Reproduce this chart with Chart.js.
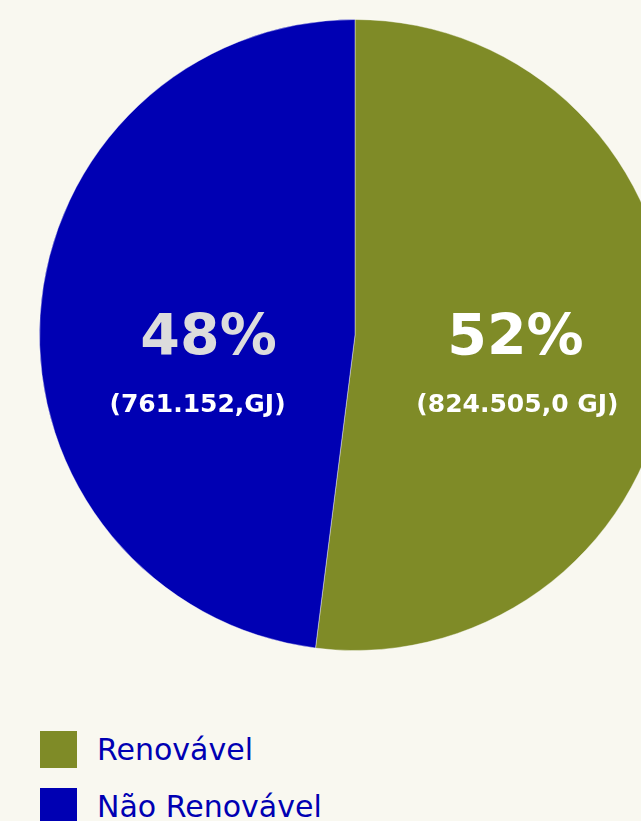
<!DOCTYPE html>
<html>
<head>
<meta charset="utf-8">
<script src="https://cdn.jsdelivr.net/npm/chart.js@4"></script>
<style>
  html, body { margin: 0; padding: 0; background: #f9f8f0; overflow: hidden; width: 641px; height: 821px; }
  #wrap { position: absolute; left: 0; top: 0; width: 710px; height: 670px; }
  #legend { position: absolute; left: 40px; top: 731px; font-family: "DejaVu Sans", sans-serif; }
  .item { display: flex; align-items: center; height: 37px; margin-bottom: 20px; }
  .box { width: 37px; height: 37px; margin-right: 20px; }
  .txt { color: #0000b3; font-size: 30px; }
</style>
</head>
<body>
<div id="wrap"><canvas id="pie" width="710" height="670"></canvas></div>
<div id="legend"></div>
<script>
// chart data
const labels = ['Renovável', 'Não Renovável'];
const values = [824505.0, 761152];
const percentLabels = ['52%', '48%'];
const energyLabels = ['(824.505,0 GJ)', '(761.152,GJ)'];
const colors = ['#7f8b27', '#0000b3'];
const pctColors = ['#ffffff', '#dcdcdc'];

// small nudges for the text in each slice
const pctNudge = [3, 11];
const subNudge = [5, 0];

// Draw the text inside each slice
const sliceText = {
  id: 'sliceText',
  afterDatasetsDraw(chart) {
    const ctx = chart.ctx;
    const arcs = chart.getDatasetMeta(0).data;
    arcs.forEach((arc, i) => {
      const mid = (arc.startAngle + arc.endAngle) / 2;
      const x = arc.x + Math.cos(mid) * arc.outerRadius * 0.5;
      const y = arc.y;
      ctx.save();
      ctx.textAlign = 'center';
      ctx.textBaseline = 'alphabetic';
      ctx.fillStyle = pctColors[i];
      ctx.font = 'bold 57px "DejaVu Sans", sans-serif';
      ctx.fillText(percentLabels[i], x + pctNudge[i], y + 20);
      ctx.fillStyle = '#ffffff';
      ctx.font = 'bold 25px "DejaVu Sans", sans-serif';
      ctx.fillText(energyLabels[i], x + subNudge[i], y + 77);
      ctx.restore();
    });
  }
};

const chart = new Chart(document.getElementById('pie'), {
  type: 'pie',
  data: {
    labels: labels,
    datasets: [{
      data: values,
      backgroundColor: colors,
      borderColor: 'rgba(255,255,255,0.4)',
      borderWidth: 1
    }]
  },
  options: {
    responsive: false,
    animation: false,
    layout: { padding: 19 },
    plugins: {
      legend: { display: false },
      tooltip: { enabled: false }
    }
  },
  plugins: [sliceText]
});

// HTML legend built from the chart labels
const legend = document.getElementById('legend');
chart.data.labels.forEach((lab, i) => {
  const item = document.createElement('div');
  item.className = 'item';
  item.innerHTML = `<div class="box" style="background:${colors[i]}"></div><div class="txt">${lab}</div>`;
  legend.appendChild(item);
});
</script>
</body>
</html>
